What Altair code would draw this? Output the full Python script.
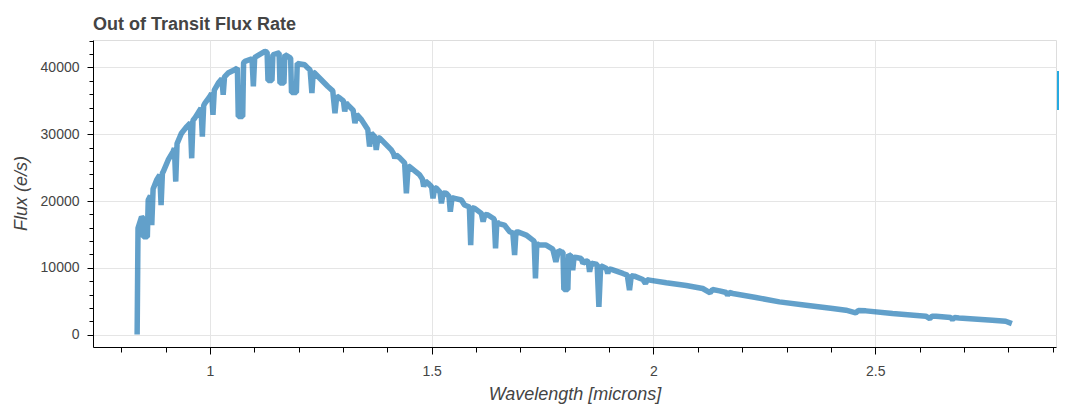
import altair as alt
import pandas as pd

# ---- data ----
wavelength = [0.836, 0.838, 0.846, 0.849, 0.850, 0.859, 0.861, 0.866, 0.869, 0.872,
              0.880, 0.887, 0.890, 0.893, 0.895, 0.906, 0.917, 0.920, 0.923, 0.926,
              0.936, 0.948, 0.956, 0.959, 0.962, 0.966, 0.980, 0.983, 0.986, 0.989,
              1.000, 1.004, 1.007, 1.010, 1.019, 1.027, 1.030, 1.033, 1.041, 1.056,
              1.062, 1.064, 1.074, 1.076, 1.079, 1.095, 1.098, 1.101, 1.105, 1.124,
              1.129, 1.131, 1.140, 1.142, 1.154, 1.156, 1.158, 1.167, 1.169, 1.173,
              1.182, 1.184, 1.195, 1.197, 1.214, 1.221, 1.226, 1.230, 1.233, 1.236,
              1.251, 1.266, 1.277, 1.282, 1.286, 1.293, 1.301, 1.304, 1.307, 1.311,
              1.323, 1.327, 1.331, 1.342, 1.356, 1.360, 1.364, 1.372, 1.375, 1.379,
              1.383, 1.409, 1.414, 1.417, 1.420, 1.428, 1.439, 1.443, 1.447, 1.450,
              1.473, 1.479, 1.482, 1.486, 1.492, 1.500, 1.503, 1.507, 1.511, 1.519,
              1.522, 1.526, 1.533, 1.539, 1.542, 1.546, 1.552, 1.567, 1.574, 1.585,
              1.588, 1.591, 1.597, 1.612, 1.616, 1.620, 1.627, 1.641, 1.644, 1.647,
              1.649, 1.664, 1.676, 1.683, 1.687, 1.690, 1.694, 1.713, 1.728, 1.731,
              1.734, 1.737, 1.743, 1.758, 1.773, 1.780, 1.786, 1.792, 1.796, 1.798,
              1.807, 1.809, 1.811, 1.815, 1.818, 1.821, 1.826, 1.837, 1.841, 1.848,
              1.853, 1.856, 1.860, 1.863, 1.873, 1.877, 1.881, 1.886, 1.894, 1.897,
              1.900, 1.905, 1.931, 1.941, 1.946, 1.950, 1.957, 1.976, 1.982, 1.986,
              1.991, 2.029, 2.074, 2.111, 2.128, 2.133, 2.149, 2.164, 2.167, 2.171,
              2.179, 2.231, 2.284, 2.344, 2.404, 2.434, 2.456, 2.462, 2.479, 2.539,
              2.614, 2.623, 2.628, 2.637, 2.670, 2.674, 2.679, 2.689, 2.764, 2.794,
              2.808]

flux = [0, 15950, 17640, 17400, 14640, 14640, 20150, 20800, 16400, 21800,
        23150, 23900, 19400, 24200, 24400, 26150, 27400, 27900, 22900, 28600,
        30160, 31150, 31700, 26400, 32100, 32410, 33900, 29650, 34300, 34660,
        35650, 36100, 32900, 36600, 37660, 38300, 35900, 38600, 39160, 39660,
        39900, 32650, 32650, 40700, 40900, 41300, 37150, 41500, 41650, 42400,
        42300, 38050, 38050, 41900, 42160, 42150, 37660, 37660, 41900, 41760,
        41400, 36250, 36250, 40600, 40400, 39910, 39600, 36160, 39300, 39160,
        38160, 37150, 36500, 33160, 35700, 35410, 35000, 33400, 34700, 34400,
        33600, 31660, 33000, 32150, 30700, 28150, 30160, 29600, 27650, 29500,
        29410, 27650, 27100, 26400, 26900, 26450, 25700, 21160, 25300, 25150,
        23900, 23300, 22150, 23000, 22660, 22100, 20400, 22000, 21900, 21300,
        19650, 21200, 21150, 20700, 18400, 20500, 20400, 20150, 19400, 19100,
        13400, 19000, 18900, 18150, 16900, 18000, 17900, 17300, 12900, 17000,
        16650, 16400, 15400, 15200, 11900, 15300, 15400, 14900, 14150, 14000,
        8400, 13600, 13400, 13400, 12800, 10900, 12600, 12400, 12300, 6750,
        6750, 12000, 11900, 11700, 9650, 11600, 11550, 11400, 10650, 11050,
        10900, 9400, 10700, 10650, 10500, 4150, 10300, 10150, 9900, 9150,
        9850, 9750, 9150, 8900, 6650, 8800, 8750, 8250, 7650, 8200,
        8150, 7750, 7350, 6900, 6250, 6750, 6550, 6300, 5900, 6300,
        6150, 5550, 4900, 4400, 3900, 3650, 3250, 3600, 3550, 3150,
        2750, 2400, 2750, 2750, 2550, 2250, 2550, 2500, 2150, 2000,
        1650]

x_tick_values = [0.8, 0.9, 1.0, 1.1, 1.2, 1.3, 1.4, 1.5, 1.6, 1.7, 1.8, 1.9,
                 2.0, 2.1, 2.2, 2.3, 2.4, 2.5, 2.6, 2.7, 2.8, 2.9]
y_tick_values = [0, 2000, 4000, 6000, 8000, 10000, 12000, 14000, 16000, 18000,
                 20000, 22000, 24000, 26000, 28000, 30000, 32000, 34000, 36000,
                 38000, 40000, 42000, 44000]
x_domain = [0.7365, 2.9075]
y_domain = [-1860, 44110]

df = pd.DataFrame({"wavelength": wavelength, "flux": flux,
                   "idx": list(range(len(wavelength)))})

W, H = 963, 307
TXT = "#444444"
FONT = "Liberation Sans"

x_major = "abs(datum.value * 2 - round(datum.value * 2)) < 0.001"
y_major = "abs(datum.value % 10000) < 0.5"

x_axis = alt.Axis(
    values=x_tick_values,
    labelExpr=f"({x_major}) ? '' + datum.value : ''",
    title="Wavelength [microns]",
    titleFontStyle="italic", titleFontWeight="normal", titleFontSize=18,
    titleColor=TXT, titleFont=FONT, titleY=52, titleBaseline="alphabetic",
    labelFont=FONT, labelFontSize=14, labelColor=TXT,
    labelOverlap=False, labelFlush=False, labelPadding=10,
    tickSize={"condition": {"test": x_major, "value": 7}, "value": 5},
    gridOpacity={"condition": {"test": x_major, "value": 1}, "value": 0},
    grid=True, gridColor="#e5e5e5",
    domainColor="#000000", tickColor="#000000",
)

y_axis = alt.Axis(
    values=y_tick_values,
    labelExpr=f"({y_major}) ? '' + datum.value : ''",
    title="Flux (e/s)",
    titleFontStyle="italic", titleFontWeight="normal", titleFontSize=18,
    titleColor=TXT, titleFont=FONT, titleAngle=270,
    titleX=-67, titleY=153, titleBaseline="alphabetic", titleAlign="center",
    labelFont=FONT, labelFontSize=14, labelColor=TXT,
    labelOverlap=False, labelFlush=False, labelPadding=8,
    tickSize={"condition": {"test": y_major, "value": 6}, "value": 4},
    gridOpacity={"condition": {"test": y_major, "value": 1}, "value": 0},
    grid=True, gridColor="#e5e5e5",
    domainColor="#000000", tickColor="#000000",
)

line = alt.Chart(df).mark_line(
    color="#1f77b4", strokeOpacity=0.7, strokeWidth=5.5,
    strokeJoin="bevel", strokeCap="butt",
).encode(
    x=alt.X("wavelength:Q", scale=alt.Scale(domain=x_domain, nice=False, zero=False),
            axis=x_axis),
    y=alt.Y("flux:Q", scale=alt.Scale(domain=y_domain, nice=False, zero=False),
            axis=y_axis),
    order="idx:Q",
)

# toolbar fragment visible at the right edge of the reference
deco = pd.DataFrame({"k": [0]})
blue_bar = alt.Chart(deco).mark_rect(color="#26aae1").encode(
    x=alt.value(W + 1), x2=alt.value(W + 4), y=alt.value(31), y2=alt.value(70))

chart = alt.layer(line, blue_bar).properties(
    width=W, height=H,
    autosize=alt.AutoSizeParams(type="none"),
    padding={"left": 85, "top": 32, "right": 3, "bottom": 58},
    title=alt.TitleParams(
        "Out of Transit Flux Rate", anchor="start", frame="group", font=FONT,
        fontSize=18, fontWeight="bold", color=TXT, offset=0),
).configure_view(stroke="#e5e5e5", strokeWidth=1).configure(background="white")

chart.save("out.html", embed_options={"renderer": "svg", "actions": False})
